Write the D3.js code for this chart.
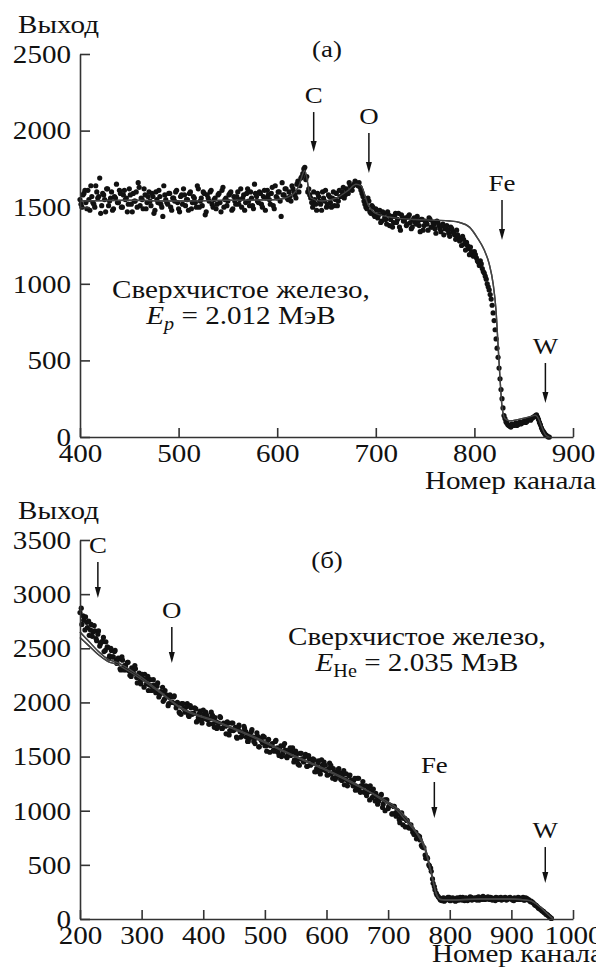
<!DOCTYPE html>
<html>
<head>
<meta charset="utf-8">
<script src="https://cdnjs.cloudflare.com/ajax/libs/d3/7.8.5/d3.min.js"></script>
<style>
  html, body { margin: 0; padding: 0; background: #fff; }
  .axis path, .axis line { stroke: #333; stroke-width: 1.6; }
  .fit { fill: none; stroke: #444; stroke-width: 1.4; }
  .dot { fill: #111; }
</style>
</head>
<body>
<div id="chart"></div>
<script>
(function () {
  const width = 596;
  const height = 974;
  const serif = "'Liberation Serif'";
  const stretch = 1.12; // the scanned type is a little wider than Liberation Serif

  // (a) proton spectrum: two interleaved sets of channels, step 2
  const chanStartA = 400;
  const chanStartA2 = 401;
  const chanStepA = 2;
  const yieldA = [
    1550, 1500, 1590, 1530, 1610, 1480, 1570, 1520, 1640, 1560, 1690, 1510, 1580, 1470, 1620, 1540,
    1600, 1490, 1560, 1530, 1610, 1500, 1580, 1550, 1470, 1620, 1520, 1590, 1540, 1500, 1630, 1560,
    1490, 1580, 1530, 1600, 1510, 1570, 1480, 1550, 1610, 1520, 1440, 1580, 1530, 1590, 1500, 1560,
    1540, 1610, 1490, 1570, 1520, 1580, 1550, 1480, 1600, 1530, 1560, 1500, 1620, 1540, 1510, 1590,
    1470, 1560, 1600, 1520, 1550, 1490, 1580, 1530, 1610, 1500, 1560, 1540, 1590, 1480, 1570, 1520,
    1600, 1550, 1500, 1580, 1530, 1620, 1510, 1560, 1490, 1590, 1540, 1600, 1520, 1570, 1480, 1610,
    1550, 1590, 1510, 1640, 1560, 1600, 1440, 1580, 1620, 1560, 1600, 1540, 1620, 1580, 1650, 1600,
    1690, 1720, 1760, 1700, 1620, 1560, 1500, 1550, 1480, 1570, 1520, 1600, 1540, 1500, 1580, 1530,
    1560, 1510, 1590, 1540, 1570, 1600, 1560, 1620, 1590, 1640, 1610, 1650, 1660, 1640, 1630, 1590,
    1540, 1500, 1560, 1470, 1510, 1450, 1490, 1430, 1480, 1410, 1460, 1420, 1470, 1380, 1440, 1400,
    1460, 1420, 1370, 1450, 1410, 1430, 1390, 1450, 1360, 1420, 1400, 1440, 1380, 1420, 1350, 1410,
    1390, 1430, 1370, 1400, 1360, 1410, 1380, 1340, 1390, 1360, 1380, 1330, 1370, 1340, 1320, 1350,
    1300, 1290, 1310, 1260, 1270, 1230, 1240, 1200, 1210, 1170, 1140, 1150, 1100, 1070, 1030, 980,
    930, 860, 760, 640, 520, 380, 250, 140, 100, 80, 70, 85, 75, 90, 80, 95,
    90, 100, 95, 110, 115, 120, 130, 140, 130, 95, 60, 35, 15, 5, 0
  ];
  const yieldA2 = [
    1520, 1580, 1610, 1490, 1550, 1640, 1530, 1500, 1600, 1570, 1460, 1590, 1550, 1620, 1510, 1560,
    1480, 1570, 1650, 1530, 1590, 1500, 1610, 1560, 1520, 1580, 1470, 1540, 1600, 1660, 1510, 1550,
    1620, 1490, 1570, 1540, 1590, 1460, 1600, 1530, 1570, 1500, 1640, 1550, 1520, 1590, 1480, 1560,
    1600, 1530, 1470, 1580, 1620, 1510, 1550, 1590, 1490, 1570, 1530, 1640, 1500, 1560, 1600, 1450,
    1580, 1540, 1610, 1500, 1560, 1520, 1590, 1470, 1630, 1550, 1510, 1580, 1600, 1490, 1540, 1570,
    1520, 1620, 1560, 1480, 1590, 1540, 1600, 1510, 1650, 1570, 1530, 1590, 1500, 1610, 1560, 1580,
    1520, 1630, 1490, 1570, 1600, 1540, 1660, 1580, 1620, 1550,
    1570, 1640, 1600, 1560, 1670, 1640, 1700, 1750, 1680, 1600, 1580, 1530, 1600, 1520, 1590, 1540,
    1480, 1560, 1610, 1520, 1570, 1500, 1600, 1550, 1510, 1610, 1570, 1630, 1580, 1600, 1660, 1620,
    1640, 1670, 1650, 1660, 1610, 1570, 1520,
    1490, 1540, 1460, 1500, 1440, 1480, 1450, 1400, 1470, 1430, 1390, 1450, 1420, 1370, 1440, 1400,
    1460, 1350, 1430, 1410, 1380, 1440, 1400, 1370, 1430, 1390, 1410, 1340, 1420, 1380, 1400, 1350,
    1420, 1370, 1390, 1330, 1400, 1360, 1380, 1320, 1370, 1350, 1310, 1360, 1330, 1290, 1320, 1280,
    1250, 1290, 1220, 1250, 1190, 1210, 1180,
    1190, 1150, 1120, 1130, 1080, 1050, 1000, 960, 900, 810, 700, 580, 450, 310, 190, 120,
    90, 75, 65, 80, 85, 75, 90, 85, 95, 105, 100, 115, 110, 125, 135, 145,
    115, 80, 45, 25, 10, 0
  ];
  const fitChA = [400, 450, 500, 550, 600, 615, 622, 628, 634, 645, 660, 672, 680, 685, 692, 700, 720, 740,
    760, 775, 785, 795, 803, 810, 815, 819, 822, 824, 826, 828, 831, 836, 845, 855, 862, 865, 868, 872, 876];
  const fitA = [1540, 1545, 1540, 1545, 1550, 1580, 1640, 1740, 1560, 1540, 1560, 1610, 1650, 1640, 1520, 1460,
    1430, 1420, 1415, 1410, 1400, 1370, 1300, 1220, 1130, 1000, 820, 600, 380, 200, 120, 105, 115, 130, 142,
    120, 70, 15, 0];

  // (б) helium spectrum: two interleaved sets of channels, step 3
  const chanStartB = 200;
  const chanStartB2 = 202;
  const chanStepB = 3;
  const yieldB = [
    2830, 2720, 2760, 2790, 2690, 2620, 2720, 2650, 2660, 2570, 2660, 2540, 2560, 2470, 2560, 2510,
    2430, 2480, 2420, 2480, 2360,
    2400, 2300, 2390, 2340, 2300, 2370, 2250, 2320, 2270, 2310, 2180, 2270, 2170, 2220, 2260, 2170,
    2110, 2210, 2150, 2160, 2090, 2180, 2070, 2090, 2010, 2110, 2060, 1990, 2050, 2000, 2060, 1950,
    1990, 1900,
    1990, 1950, 1910, 1990, 1870, 1950, 1900, 1950, 1820, 1860, 1920, 1810, 1890, 1910, 1840, 1800,
    1910, 1800, 1860, 1760, 1810, 1860, 1760, 1800, 1710, 1810, 1740, 1810, 1740, 1770, 1670, 1790,
    1680, 1720, 1760, 1680, 1640, 1710, 1750, 1640, 1670, 1690, 1590, 1650, 1690, 1600, 1550, 1660,
    1600, 1620, 1550, 1650, 1540, 1570, 1500, 1600, 1560, 1490, 1560, 1510, 1580, 1470, 1520, 1430,
    1530, 1480, 1450, 1520, 1410, 1480, 1430, 1480, 1360, 1390, 1460, 1340, 1420, 1450, 1370, 1330,
    1440, 1340, 1390, 1290, 1340, 1390,
    1290, 1330, 1240, 1340, 1270, 1330, 1260, 1280, 1190, 1300, 1190, 1230, 1270, 1180, 1140, 1200,
    1230, 1120, 1140, 1160, 1060, 1110, 1150, 1060, 1000, 1100, 1040, 1050, 970, 1040, 950, 970,
    890, 980, 930, 850, 910, 840, 870, 800, 800, 740, 770, 730, 670, 660, 560, 560,
    490, 440, 330, 270, 225,
    200, 175, 190, 165, 185, 200, 170, 190, 180, 165, 195, 175, 185, 200, 170, 190,
    180, 205, 175, 190, 185, 200, 175, 195, 210, 180, 195, 185, 200, 175, 190, 200,
    180, 195, 175, 190, 200, 180, 195, 185, 175, 195, 185, 200, 180, 190, 175, 195,
    180, 170, 165, 150, 130, 120, 100, 90, 75, 60, 45, 35, 20, 5
  ];
  const yieldB2 = [
    2870, 2800, 2670, 2740, 2750, 2670, 2610, 2710, 2590, 2630, 2520, 2560, 2600, 2480, 2510, 2410,
    2500, 2420, 2470, 2390,
    2410, 2310, 2420, 2300, 2340, 2370, 2290, 2240, 2310, 2340, 2230, 2250, 2200, 2260, 2140, 2210,
    2240, 2160, 2110, 2210, 2110, 2150, 2050, 2100, 2140, 2030, 2070, 1970, 2070, 2000, 2050, 1990,
    2000, 1910,
    1890, 1990, 1930, 1960, 1880, 1970, 1890, 1900, 1940, 1830, 1900, 1840, 1930, 1850, 1880, 1800,
    1850, 1880, 1770, 1820, 1780, 1870, 1760, 1810, 1780, 1820, 1700, 1740, 1810, 1750, 1680, 1770,
    1730, 1690, 1780, 1730, 1640, 1670, 1730, 1680, 1620, 1720, 1590, 1670, 1630, 1680, 1600, 1650,
    1540, 1610, 1560, 1640, 1580, 1510, 1600, 1530, 1620, 1500, 1520, 1580, 1540, 1450, 1550, 1470,
    1420, 1530, 1460, 1500, 1410, 1510, 1420, 1440, 1470, 1360, 1440, 1370, 1470, 1380, 1420, 1330,
    1390, 1420, 1300, 1360, 1310, 1380,
    1350, 1280, 1370, 1290, 1230, 1320, 1280, 1230, 1300, 1220, 1300, 1170, 1230, 1170, 1230, 1170,
    1100, 1180, 1200, 1090, 1130, 1090, 1140, 1030, 1100, 1100, 1020, 1050, 970, 1040, 980, 1000,
    920, 940, 870, 930, 910, 850, 860, 830, 780, 800, 750, 760, 680, 660, 590, 570,
    500, 470, 370, 300, 240,
    210, 185, 170, 195, 175, 185, 200, 170, 195, 180, 170, 190, 200, 175, 185, 195,
    170, 190, 200, 180, 195, 175, 205, 190, 180, 200, 185, 205, 180, 195, 185, 170,
    195, 185, 200, 180, 195, 175, 190, 200, 185, 170, 190, 180, 195, 185, 200, 175,
    190, 180, 160, 155, 140, 125, 110, 95, 80, 70, 55, 40, 25, 10
  ];
  const fitChB = [200, 215, 230, 245, 260, 290, 330, 362, 420, 480, 540, 600, 650, 700, 715, 730, 745, 760,
    770, 778, 785, 800, 850, 900, 930, 945, 960, 968];
  const fitB1 = [2650, 2560, 2470, 2400, 2370, 2270, 2100, 1960, 1830, 1690, 1530, 1380, 1240, 1060, 1000, 900,
    800, 640, 420, 230, 180, 175, 185, 185, 170, 120, 40, 0];
  const fitB2 = [2600, 2520, 2440, 2380, 2350, 2250, 2090, 1950, 1820, 1680, 1520, 1370, 1230, 1080, 1020, 930,
    810, 660, 430, 240, 180, 175, 185, 185, 170, 120, 40, 0];

  // tick labels
  const xTicksA = [400, 500, 600, 700, 800, 900];
  const yTicksA = [0, 500, 1000, 1500, 2000, 2500];
  const xTicksB = [200, 300, 400, 500, 600, 700, 800, 900, 1000];
  const yTicksB = [0, 500, 1000, 1500, 2000, 2500, 3000, 3500];

  // element markers: name, channel, yield at arrow tip
  const elementsA = ["C", "O", "Fe", "W"];
  const elementChA = [637, 693, 828, 872];
  const elementTipA = [1860, 1723, 1286, 222];
  const elementsB = ["C", "O", "Fe", "W"];
  const elementChB = [229, 349, 775, 955];
  const elementTipB = [2964, 2364, 933, 332];

  const svg = d3.select("#chart").append("svg")
    .attr("width", width)
    .attr("height", height);

  svg.append("rect").attr("width", width).attr("height", height).attr("fill", "#fff");

  // text placed at (x, y), widened a little like the scan
  function label(g, x, y, size, str, anchor) {
    return g.append("g")
      .attr("transform", "translate(" + x + "," + y + ") scale(" + stretch + ",1)")
      .append("text")
      .style("font-family", serif)
      .style("font-size", size + "px")
      .attr("text-anchor", anchor || "start")
      .attr("fill", "#111")
      .text(str);
  }

  function drawPanel(p) {
    const g = svg.append("g");
    const x = d3.scaleLinear().domain(p.xDomain).range([p.left, p.right]);
    const y = d3.scaleLinear().domain(p.yDomain).range([p.bottom, p.top]);

    const points = p.yields.map((v, i) => ({c: p.chanStart + i * p.chanStep, v: v}))
      .concat(p.yields2.map((v, i) => ({c: p.chanStart2 + i * p.chanStep, v: v})));

    const line = d3.line()
      .x(d => x(d.c))
      .y(d => y(d.v))
      .curve(d3.curveMonotoneX);

    p.fits.forEach(f => {
      g.append("path")
        .attr("class", "fit")
        .attr("d", line(p.fitCh.map((c, i) => ({c: c, v: f[i]}))));
    });

    g.selectAll(".dot")
      .data(points)
      .enter().append("circle")
      .attr("class", "dot")
      .attr("cx", d => x(d.c))
      .attr("cy", d => y(d.v))
      .attr("r", 2.6);

    // fits again on top, thin, so they show through the dots
    p.fits.forEach(f => {
      g.append("path")
        .attr("class", "fit")
        .attr("stroke-width", 0.7)
        .attr("stroke", "#666")
        .attr("d", line(p.fitCh.map((c, i) => ({c: c, v: f[i]}))));
    });

    g.append("g")
      .attr("class", "axis")
      .attr("transform", "translate(0," + p.bottom + ")")
      .call(d3.axisBottom(x).tickValues(p.xTicks).tickSizeInner(-9).tickSizeOuter(0).tickPadding(7)
        .tickFormat(d3.format("d")));

    g.append("g")
      .attr("class", "axis")
      .attr("transform", "translate(" + p.left + ",0)")
      .call(d3.axisLeft(y).tickValues(p.yTicks).tickSizeInner(-10).tickSizeOuter(0).tickPadding(8)
        .tickFormat(d3.format("d")));

    g.selectAll(".axis").attr("color", "#111");
    g.selectAll(".axis text")
      .style("font-family", serif)
      .style("font-size", "26px")
      .attr("transform", "scale(" + stretch + ",1)");

    // arrows with element names
    p.elements.forEach((name, i) => {
      const ax = x(p.elementCh[i]);
      const tip = y(p.elementTip[i]);
      const top = tip - p.arrowLen;
      g.append("line")
        .attr("x1", ax).attr("x2", ax)
        .attr("y1", top).attr("y2", tip - 8)
        .attr("stroke", "#111").attr("stroke-width", 1.5);
      g.append("path")
        .attr("d", "M" + (ax - 3) + "," + (tip - 11) + "L" + (ax + 3) + "," + (tip - 11) + "L" + ax + "," + tip + "Z")
        .attr("fill", "#111");
      label(g, ax, top - 9, 24, name, "middle");
    });

    label(g, 18, p.top - 21, 26, "Выход");
    label(g, p.titleX, p.titleY, 24, p.title, "middle");
    label(g, p.xLabelX, p.xLabelY, 26, "Номер канала");
    label(g, p.noteX, p.noteY, 26, "Сверхчистое железо,", "middle");

    const e = label(g, p.noteX, p.noteY + 26, 26, null, "middle");
    e.append("tspan").attr("font-style", "italic").text("E");
    e.append("tspan").attr("font-style", p.subItalic ? "italic" : "normal")
      .style("font-size", "18px").attr("dy", 6).text(p.sub);
    e.append("tspan").attr("dy", -6).text(" = " + p.energy + " МэВ");
  }

  drawPanel({
    xDomain: [400, 900], yDomain: [0, 2500],
    left: 80, right: 573, top: 54, bottom: 437,
    chanStart: chanStartA, chanStart2: chanStartA2, chanStep: chanStepA, yields: yieldA, yields2: yieldA2,
    fitCh: fitChA, fits: [fitA],
    xTicks: xTicksA, yTicks: yTicksA,
    elements: elementsA, elementCh: elementChA, elementTip: elementTipA, arrowLen: 40,
    title: "(a)", titleX: 327, titleY: 57,
    xLabelX: 425, xLabelY: 489,
    noteX: 241, noteY: 298, sub: "p", subItalic: true, energy: "2.012"
  });

  drawPanel({
    xDomain: [200, 1000], yDomain: [0, 3500],
    left: 80, right: 573, top: 540, bottom: 919,
    chanStart: chanStartB, chanStart2: chanStartB2, chanStep: chanStepB, yields: yieldB, yields2: yieldB2,
    fitCh: fitChB, fits: [fitB1, fitB2],
    xTicks: xTicksB, yTicks: yTicksB,
    elements: elementsB, elementCh: elementChB, elementTip: elementTipB, arrowLen: 36,
    title: "(б)", titleX: 327, titleY: 568,
    xLabelX: 432, xLabelY: 962,
    noteX: 417, noteY: 645, sub: "He", subItalic: false, energy: "2.035"
  });
})();
</script>
</body>
</html>
